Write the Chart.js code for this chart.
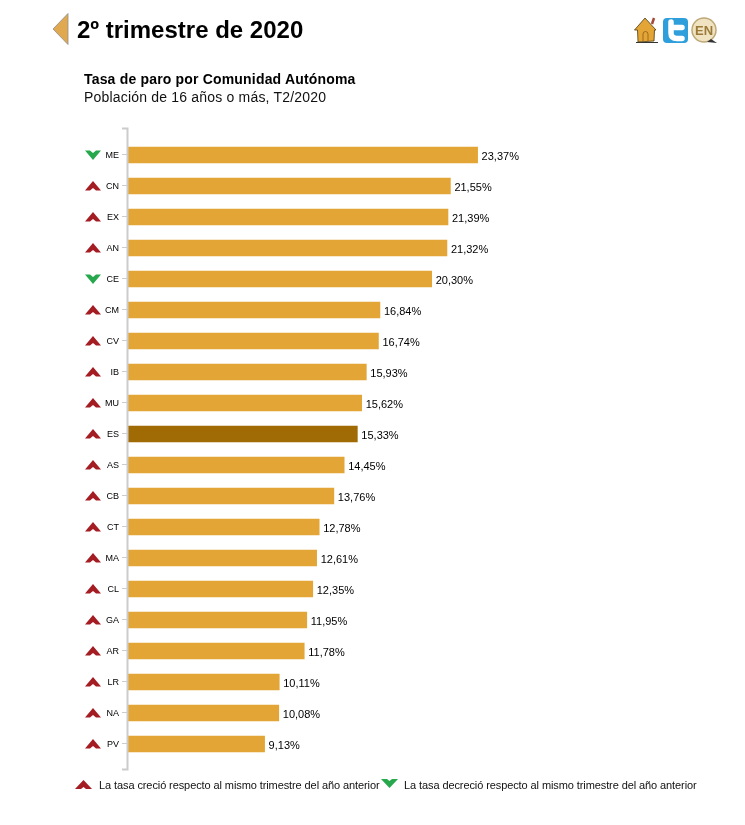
<!DOCTYPE html>
<html lang="es">
<head>
<meta charset="utf-8">
<title>2º trimestre de 2020</title>
<script src="https://cdn.jsdelivr.net/npm/chart.js@4"></script>
<style>
  html, body { margin: 0; padding: 0; background: #fff; }
  body { width: 745px; height: 825px; position: relative; overflow: hidden; font-family: "Liberation Sans", Arial, sans-serif; color: #000; }
  #back { position: absolute; left: 52px; top: 13px; }
  h1 { position: absolute; left: 77px; top: 16px; margin: 0; font-size: 24px; line-height: 28px; font-weight: bold; }
  #icons { position: absolute; left: 634px; top: 16px; }
  #t1 { position: absolute; left: 84px; top: 71px; font-size: 14px; line-height: 16px; font-weight: bold; letter-spacing: .18px; }
  #t2 { position: absolute; left: 84px; top: 89px; font-size: 14px; line-height: 16px; letter-spacing: .19px; color: #111; }
  #wrap { position: absolute; left: 0; top: 0; width: 745px; height: 825px; }
  .lg { position: absolute; top: 779px; font-size: 11px; line-height: 13px; white-space: nowrap; letter-spacing: -.095px; color: #111; }
  .mk { position: absolute; top: 779px; }
</style>
</head>
<body>
<div id="wrap"><canvas id="chart" width="745" height="825"></canvas></div>

<svg id="back" width="17" height="32"><path d="M16 0.5V31.5L1 16Z" fill="#E0A94F" stroke="#8d8d8d" stroke-width=".8"/></svg>
<h1>2º trimestre de 2020</h1>
<svg id="icons" width="84" height="30" viewBox="0 0 84 30">
  <path d="M18 8L20 2" stroke="#a5483a" stroke-width="2.500"/>
  <path d="M0.500 14L11 2L22 14H20.500L20 25L4 26L3.500 14Z" fill="#E3A535" stroke="#4d3a12" stroke-width=".8"/>
  <path d="M9 25V18a2.500 2.500 0 0 1 5 0V25" fill="none" stroke="#9b6a1c" stroke-width="1"/>
  <path d="M2 26.500H24" stroke="#333" stroke-width="1"/>
  <rect x="29" y="2" width="25" height="25" rx="4" fill="#2F9FDC"/>
  <path d="M37 6V17Q37 22.500 43 22.500H48M37 11.500H48" fill="none" stroke="#fff" stroke-width="5.500" stroke-linecap="round"/>
  <circle cx="70" cy="14" r="12" fill="#EFE3C2" stroke="#bfa877" stroke-width="1.500"/>
  <path d="M77 23L83 27L73 26Z" fill="#333"/>
  <text x="70" y="19" text-anchor="middle" font-family="Liberation Sans" font-weight="bold" font-size="13" fill="#9b7a38">EN</text>
</svg>
<div id="t1">Tasa de paro por Comunidad Autónoma</div>
<div id="t2">Población de 16 años o más, T2/2020</div>

<svg class="mk" style="left:75px;top:780px" width="17" height="9"><path d="M0 9L8.500 0L17 9H11L8.500 7L6 9Z" fill="#A31D23"/></svg>
<div class="lg" style="left:99px">La tasa creció respecto al mismo trimestre del año anterior</div>
<svg class="mk" style="left:381px" width="17" height="9"><path d="M0 0L8.500 9L17 0H11L8.500 2L6 0Z" fill="#27A84D"/></svg>
<div class="lg" style="left:404px">La tasa decreció respecto al mismo trimestre del año anterior</div>

<script>
const regions = ['ME','CN','EX','AN','CE','CM','CV','IB','MU','ES','AS','CB','CT','MA','CL','GA','AR','LR','NA','PV'];
const rates = [23.37,21.55,21.39,21.32,20.30,16.84,16.74,15.93,15.62,15.33,14.45,13.76,12.78,12.61,12.35,11.95,11.78,10.11,10.08,9.13];
const trends = ['down','up','up','up','down','up','up','up','up','up','up','up','up','up','up','up','up','up','up','up'];
const highlight = 'ES';

const BAR = '#E3A535', BAR_ES = '#A06A04', UP = '#A31D23', DOWN = '#27A84D', AXIS = '#CCCCCC';

// bracket axis, chevrons and value labels
const extras = {
  id: 'extras',
  afterDatasetsDraw(chart) {
    const { ctx, chartArea: a, scales: { x, y } } = chart;
    ctx.save();
    ctx.strokeStyle = AXIS;
    ctx.lineWidth = 2;
    ctx.beginPath();
    ctx.moveTo(a.left - 6, a.top - 11);
    ctx.lineTo(a.left - 0.500, a.top - 11);
    ctx.lineTo(a.left - 0.500, a.bottom + 10);
    ctx.lineTo(a.left - 6, a.bottom + 10);
    ctx.stroke();
    ctx.lineWidth = 1;
    ctx.textBaseline = 'middle';
    regions.forEach((r, i) => {
      const cy = y.getPixelForValue(i);
      ctx.beginPath();
      ctx.moveTo(a.left - 6, Math.round(cy) - 0.500);
      ctx.lineTo(a.left - 1, Math.round(cy) - 0.500);
      ctx.stroke();
      ctx.fillStyle = '#000';
      ctx.font = '11px "Liberation Sans"';
      ctx.textAlign = 'left';
      ctx.fillText(rates[i].toFixed(2).replace('.', ',') + '%', x.getPixelForValue(rates[i]) + 4, cy + 1.500);
      ctx.font = '9px "Liberation Sans"';
      ctx.textAlign = 'right';
      ctx.fillText(r, a.left - 9, cy + 0.500);
      ctx.fillStyle = trends[i] === 'up' ? UP : DOWN;
      const s = trends[i] === 'up' ? 1 : -1;
      ctx.beginPath();
      ctx.moveTo(85, cy + s * 4.500);
      ctx.lineTo(93, cy - s * 5);
      ctx.lineTo(101, cy + s * 4.500);
      ctx.lineTo(96, cy + s * 4.500);
      ctx.lineTo(93, cy + s * 2);
      ctx.lineTo(90, cy + s * 4.500);
      ctx.closePath();
      ctx.fill();
    });
    ctx.restore();
  }
};

new Chart(document.getElementById('chart'), {
  type: 'bar',
  data: {
    labels: regions,
    datasets: [{
      data: rates,
      backgroundColor: regions.map(r => r === highlight ? BAR_ES : BAR),
      barThickness: 16
    }]
  },
  options: {
    indexAxis: 'y',
    responsive: false,
    animation: false,
    layout: { padding: { left: 128, top: 139.5, right: 243, bottom: 65.5 } },
    plugins: { legend: { display: false }, tooltip: { enabled: false } },
    scales: {
      x: { display: false, min: 0, max: 25 },
      y: { display: false }
    }
  },
  plugins: [extras]
});
</script>
</body>
</html>
